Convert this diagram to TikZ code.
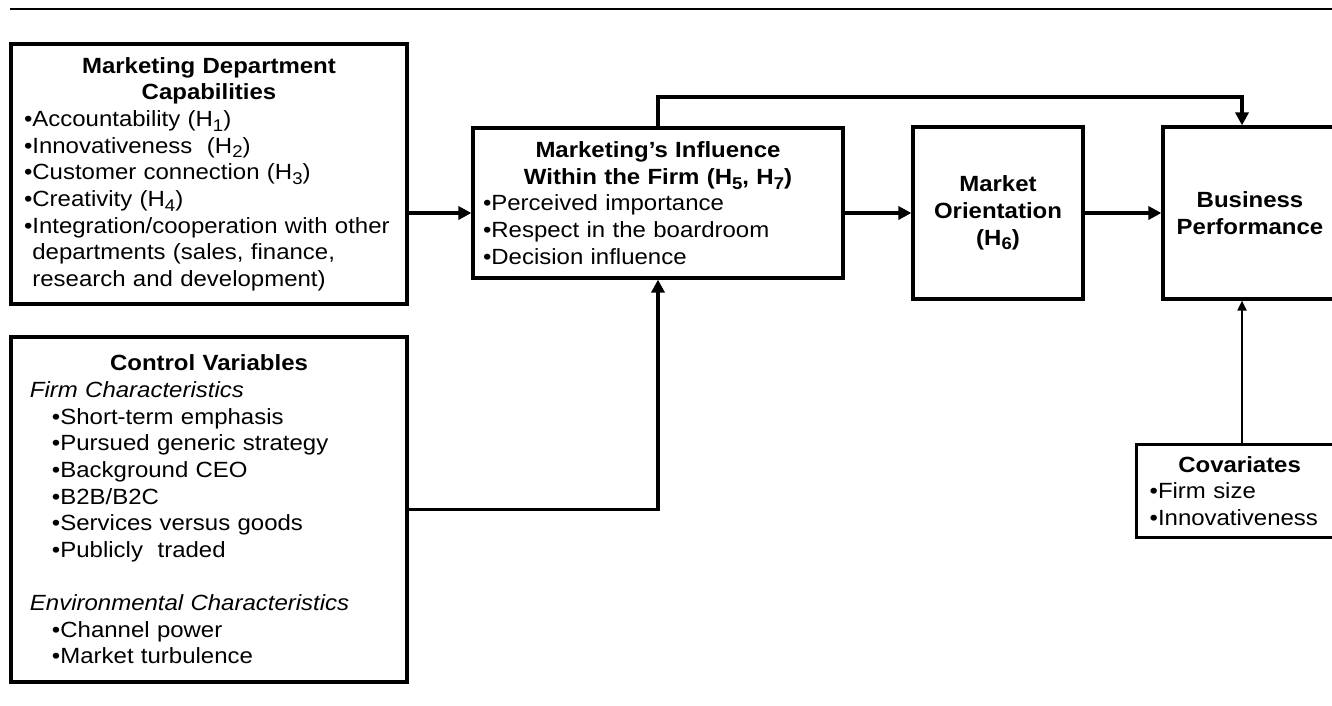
\documentclass[tikz,border=0pt]{standalone}
\usepackage{fontspec}
\setmainfont[FakeStretch=1.09]{Liberation Sans}
\usetikzlibrary{arrows.meta}

\newcommand{\hsub}[1]{\raisebox{-2.4pt}{\fontsize{8.5}{8.5}\selectfont #1}}

\tikzset{
  box/.style={draw, line width=1.6pt, inner ysep=0pt, font=\fontsize{11}{13.33}\selectfont},
  link/.style={line width=1.75pt, -{Triangle[length=6.5pt, width=6.5pt]}},
  thinlink/.style={line width=1pt, -{Triangle[length=5pt, width=4.5pt]}},
}

\begin{document}
\begin{tikzpicture}[x=0.5pt, y=-0.5pt]
    \useasboundingbox (0,0) rectangle (1332,706);

    % Rule above the figure
    \draw[line width=1.3pt] (10,9) -- (1332,9);

    % Marketing department capabilities
    \node[box, align=left, text width=185pt, inner xsep=6.5pt, minimum height=130pt] (mdc) at (209,174) {%
        \centering\textbf{Marketing Department\\Capabilities}\par
        \raggedright •Accountability (H\hsub{1})\\
        •Innovativeness~ (H\hsub{2})\\
        •Customer connection (H\hsub{3})\\
        •Creativity (H\hsub{4})\\
        •Integration/cooperation with other\\
        \hphantom{•}departments (sales, finance,\\
        \hphantom{•}research and development)};

    % Control variables
    \node[box, align=left, text width=179pt, inner xsep=9.5pt, minimum height=172.5pt] (ctrl) at (209,509.5) {%
        \centering\textbf{Control Variables}\par
        \raggedright\textit{Firm Characteristics}\\
        \hspace*{11pt}•Short-term emphasis\\
        \hspace*{11pt}•Pursued generic strategy\\
        \hspace*{11pt}•Background CEO\\
        \hspace*{11pt}•B2B/B2C\\
        \hspace*{11pt}•Services versus goods\\
        \hspace*{11pt}•Publicly~ traded\\[\baselineskip]
        \textit{Environmental Characteristics}\\
        \hspace*{11pt}•Channel power\\
        \hspace*{11pt}•Market turbulence};

    % Marketing's influence
    \node[box, align=left, text width=175pt, inner xsep=5pt, minimum height=75pt] (infl) at (658,203) {%
        \centering\textbf{Marketing’s Influence\\Within the Firm (H\hsub{5}, H\hsub{7})}\par
        \raggedright •Perceived importance\\
        •Respect in the boardroom\\
        •Decision influence};

    % Market orientation and performance
    \node[box, align=center, font=\fontsize{11}{13.33}\selectfont\bfseries, minimum width=85pt, minimum height=86pt] (mo) at (998,213)
        {Market\\Orientation\\(H\hsub{6})};
    \node[box, align=center, font=\fontsize{11}{13.33}\selectfont\bfseries, minimum width=87pt, minimum height=86pt] (bp) at (1250,213)
        {Business\\Performance};

    % Covariates
    \node[box, align=left, text width=90pt, inner xsep=6.5pt, minimum height=46.5pt, anchor=north west] (cov) at (1135,443) {%
        \centering\textbf{Covariates}\par
        \raggedright •Firm size\\
        •Innovativeness};

    % Connectors
    \coordinate (jog) at (1242,97);
    \draw[link] (mdc.east |- mo.west) -- (infl.west |- mo.west);
    \draw[link] (infl.east |- mo.west) -- (mo.west);
    \draw[link] (mo.east) -- (bp.west);
    \draw[link] (infl.north) |- (jog) -- (jog |- bp.north);
    \draw[link] (ctrl.east) -| (infl.south);
    \draw[thinlink] (cov.north -| jog) -- (jog |- bp.south);

\end{tikzpicture}
\end{document}
